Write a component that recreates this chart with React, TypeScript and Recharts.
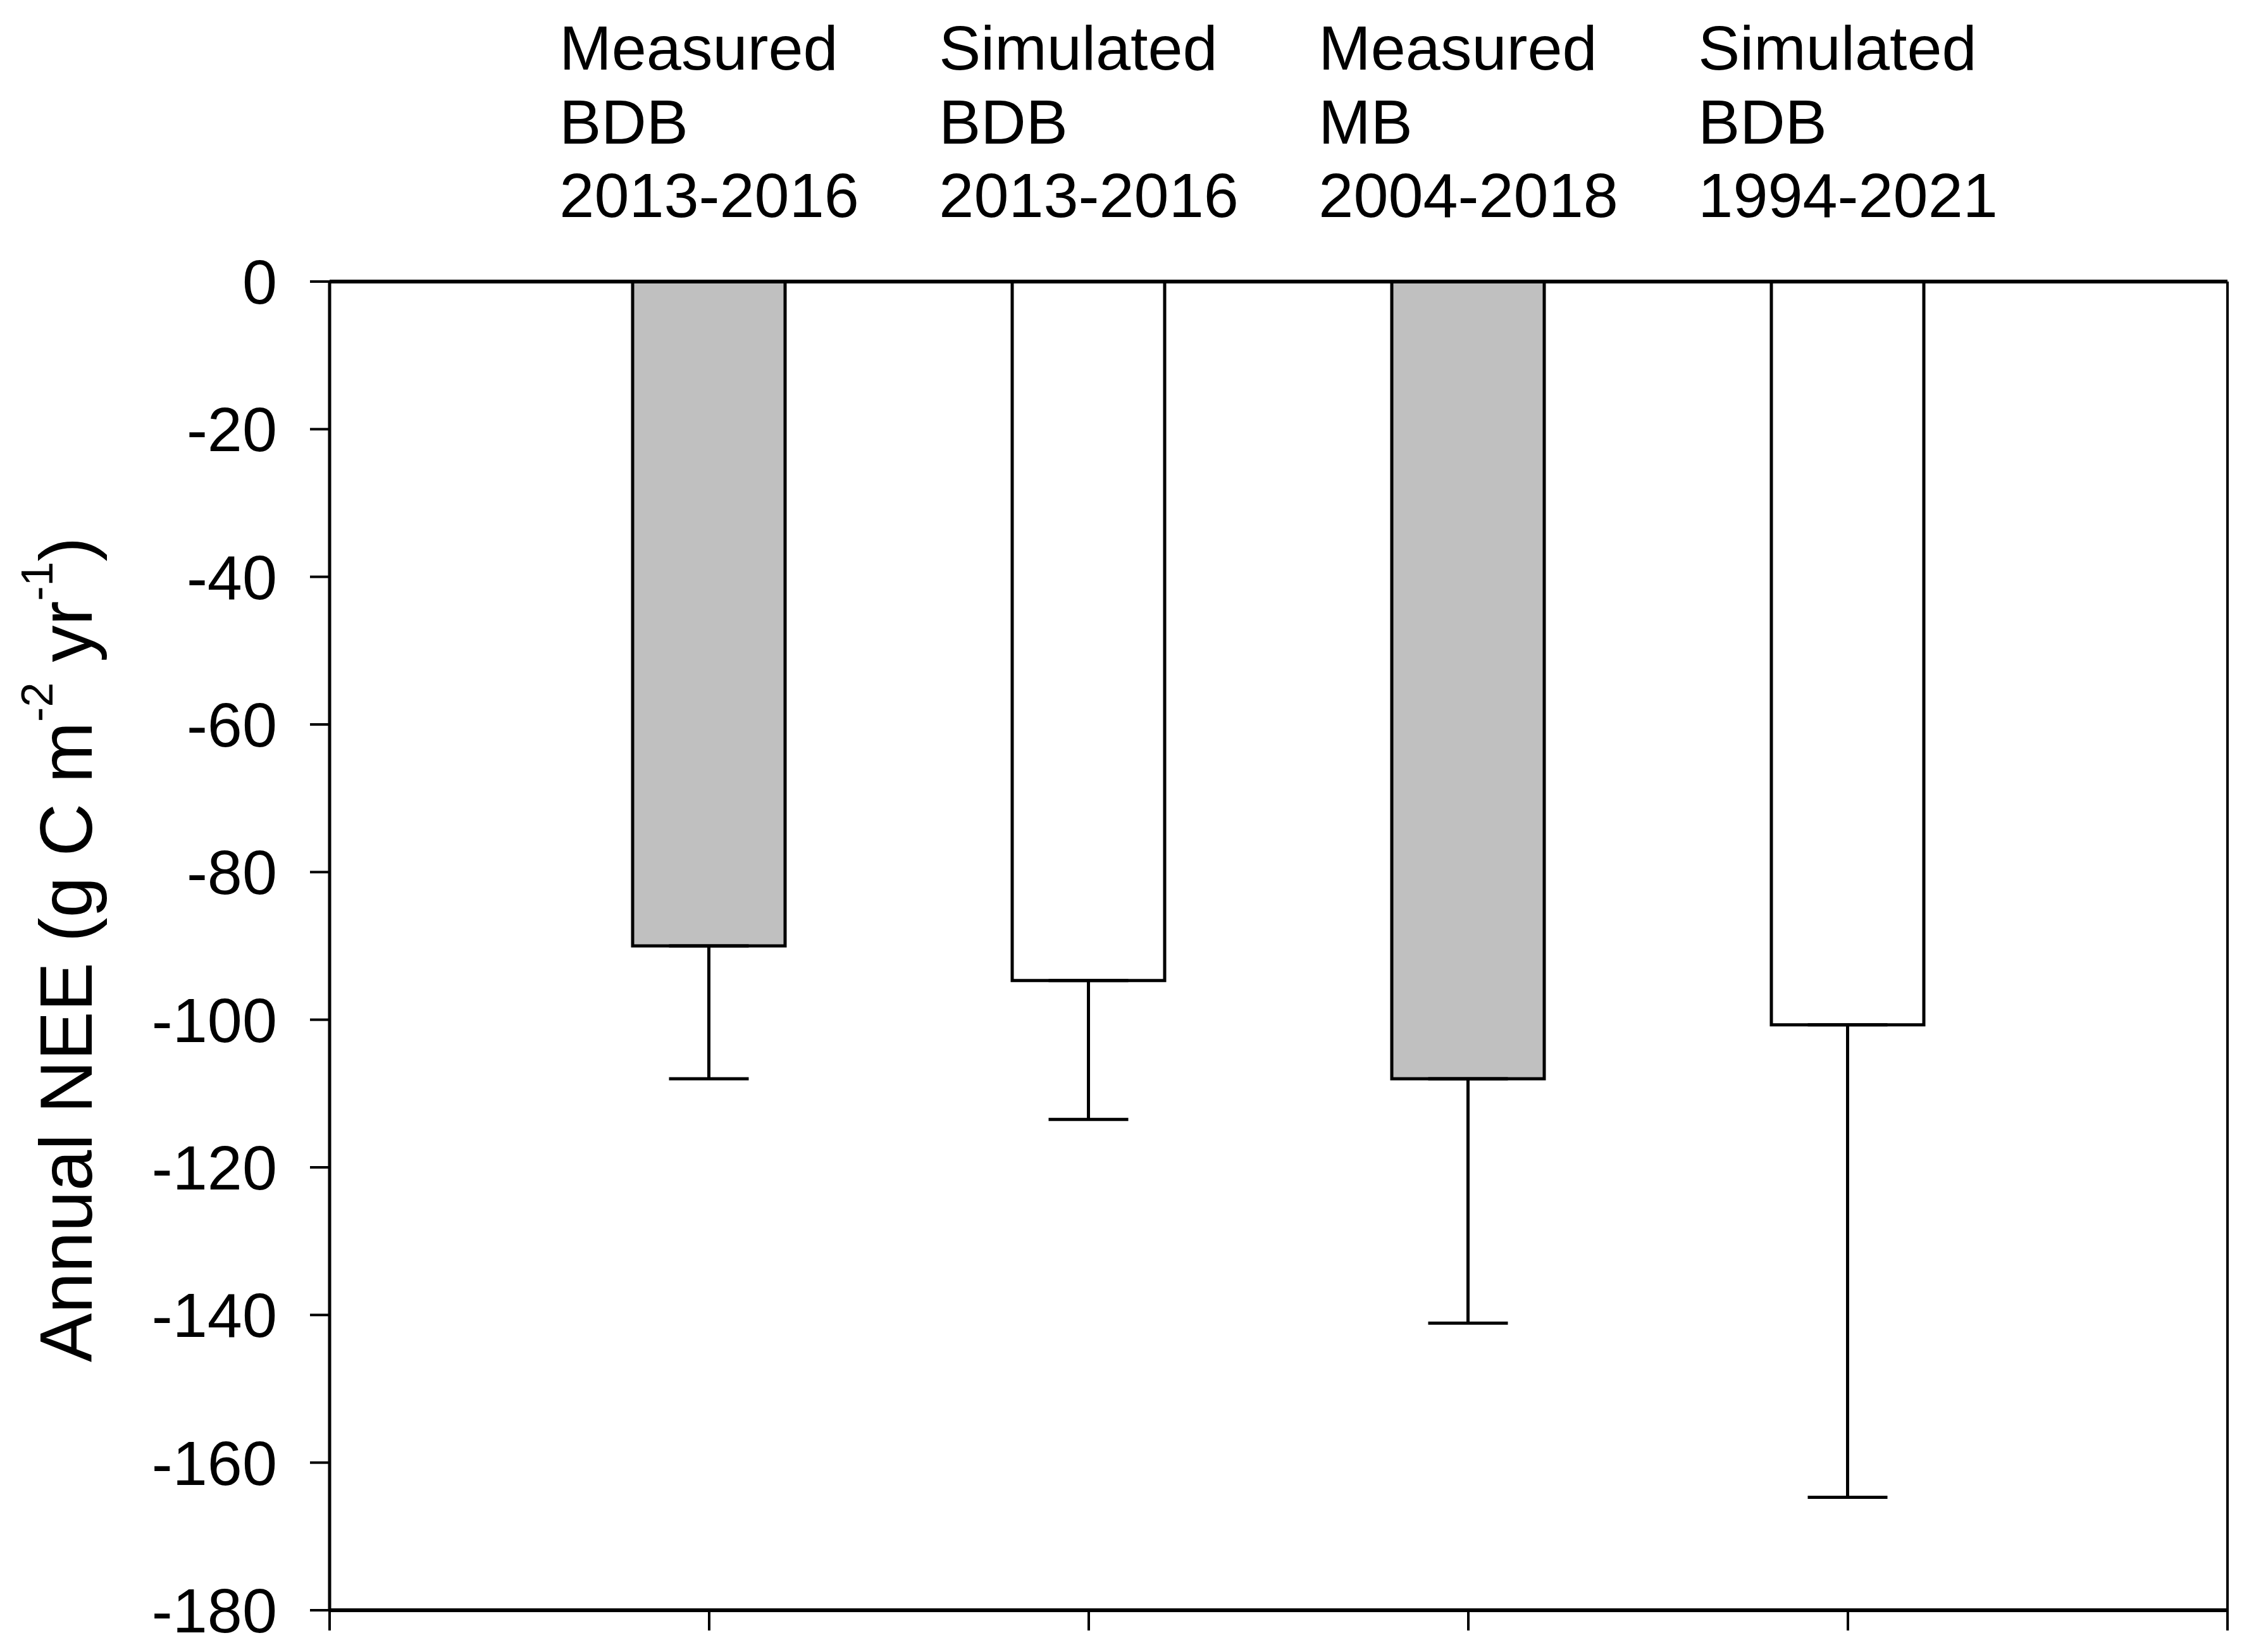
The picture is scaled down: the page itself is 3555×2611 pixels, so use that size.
import React from 'react';
import { BarChart, Bar, XAxis, YAxis, ErrorBar, Cell, ReferenceLine } from 'recharts';

const FONT = '"Liberation Sans", Arial, Helvetica, sans-serif';

// ---- data ----
const positions = [1, 2, 3, 4];
const labelLine1 = ['Measured', 'Simulated', 'Measured', 'Simulated'];
const labelLine2 = ['BDB', 'BDB', 'MB', 'BDB'];
const labelLine3 = ['2013-2016', '2013-2016', '2004-2018', '1994-2021'];
const annualNEE = [-90, -94.7, -108, -100.7];
const neeError = [18, 18.8, 33.1, 64];
const xTicks = [0, 1, 2, 3, 4, 5];
const yTicks = [0, -20, -40, -60, -80, -100, -120, -140, -160, -180];

const data = positions.map((x, i) => ({
  x,
  nee: annualNEE[i],
  err: [neeError[i], 0],
  kind: labelLine1[i],
}));

const CHAR_W: Record<string, number> = {
  '0': 0.556, '1': 0.556, '2': 0.556, '3': 0.556, '4': 0.556, '5': 0.556, '6': 0.556,
  '7': 0.556, '8': 0.556, '9': 0.556, '-': 0.333, M: 0.833, B: 0.667, D: 0.722, S: 0.667,
  e: 0.556, a: 0.556, s: 0.5, u: 0.556, r: 0.333, d: 0.556, i: 0.222, m: 0.833, l: 0.222, t: 0.278,
};
const widthEm = (s: string) => s.split('').reduce((acc, c) => acc + (CHAR_W[c] ?? 0.556), 0);

function TopTick(props: any) {
  const { x, y, payload } = props;
  const i = positions.indexOf(payload?.value);
  if (i < 0) return null;
  const lines = [labelLine1[i], labelLine2[i], labelLine3[i]];
  const fs = 99;
  const w = Math.max(...lines.map(widthEm)) * fs;
  const left = x - w / 2;
  return (
    <g>
      {lines.map((t, k) => (
        <text key={k} x={left} y={y - 335 + k * 116.5} fontSize={fs} fontFamily={FONT} fill="#000">
          {t}
        </text>
      ))}
    </g>
  );
}

function EmptyTick() {
  return <g />;
}

function YTitle(props: any) {
  const vb = props.viewBox || { x: 0, y: 0, width: 0, height: 0 };
  const cx = vb.x + 137;
  const cy = vb.y + vb.height / 2 + 6;
  return (
    <text
      x={cx}
      y={cy}
      transform={`rotate(-90 ${cx} ${cy})`}
      textAnchor="middle"
      fontSize={116}
      fontFamily={FONT}
      fill="#000"
    >
      {'Annual NEE (g C m'}
      <tspan fontSize={70} dy={-62}>{'-2'}</tspan>
      <tspan dy={62}>{'\u00a0yr'}</tspan>
      <tspan fontSize={70} dy={-62}>{'-1'}</tspan>
      <tspan dy={62}>{')'}</tspan>
    </text>
  );
}

export default function App() {
  return (
    <div style={{ width: 3530, height: 2590 }}>
      <BarChart
        width={3530}
        height={2590}
        data={data}
        margin={{ top: 0, right: 17, bottom: 13, left: 0 }}
      >
        <XAxis
          xAxisId="top"
          orientation="top"
          type="number"
          dataKey="x"
          domain={[0, 5]}
          ticks={positions}
          interval={0}
          height={437}
          axisLine={false}
          tickLine={false}
          tickSize={0}
          tickMargin={0}
          tick={<TopTick />}
        />
        <XAxis
          type="number"
          dataKey="x"
          domain={[0, 5]}
          ticks={xTicks}
          interval={0}
          height={40}
          tickSize={32}
          tick={<EmptyTick />}
          axisLine={{ stroke: '#000', strokeWidth: 6 }}
          tickLine={{ stroke: '#000', strokeWidth: 4 }}
        />
        <YAxis
          type="number"
          domain={[-180, 0]}
          ticks={yTicks}
          interval={0}
          width={513}
          tickSize={31}
          tickMargin={52}
          axisLine={{ stroke: '#000', strokeWidth: 5 }}
          tickLine={{ stroke: '#000', strokeWidth: 4 }}
          tick={{ fontSize: 99, fill: '#000', fontFamily: FONT }}
          label={<YTitle />}
        />
        <Bar dataKey="nee" barSize={241} stroke="#000" strokeWidth={5} isAnimationActive={false}>
          {data.map((d, i) => (
            <Cell key={i} fill={d.kind === 'Measured' ? '#c0c0c0' : '#ffffff'} />
          ))}
          <ErrorBar dataKey="err" width={63} stroke="#000" strokeWidth={5} direction="y" isAnimationActive={false} />
        </Bar>
        <ReferenceLine y={0} stroke="#000" strokeWidth={6} />
        <ReferenceLine x={5} stroke="#000" strokeWidth={4} />
      </BarChart>
    </div>
  );
}
